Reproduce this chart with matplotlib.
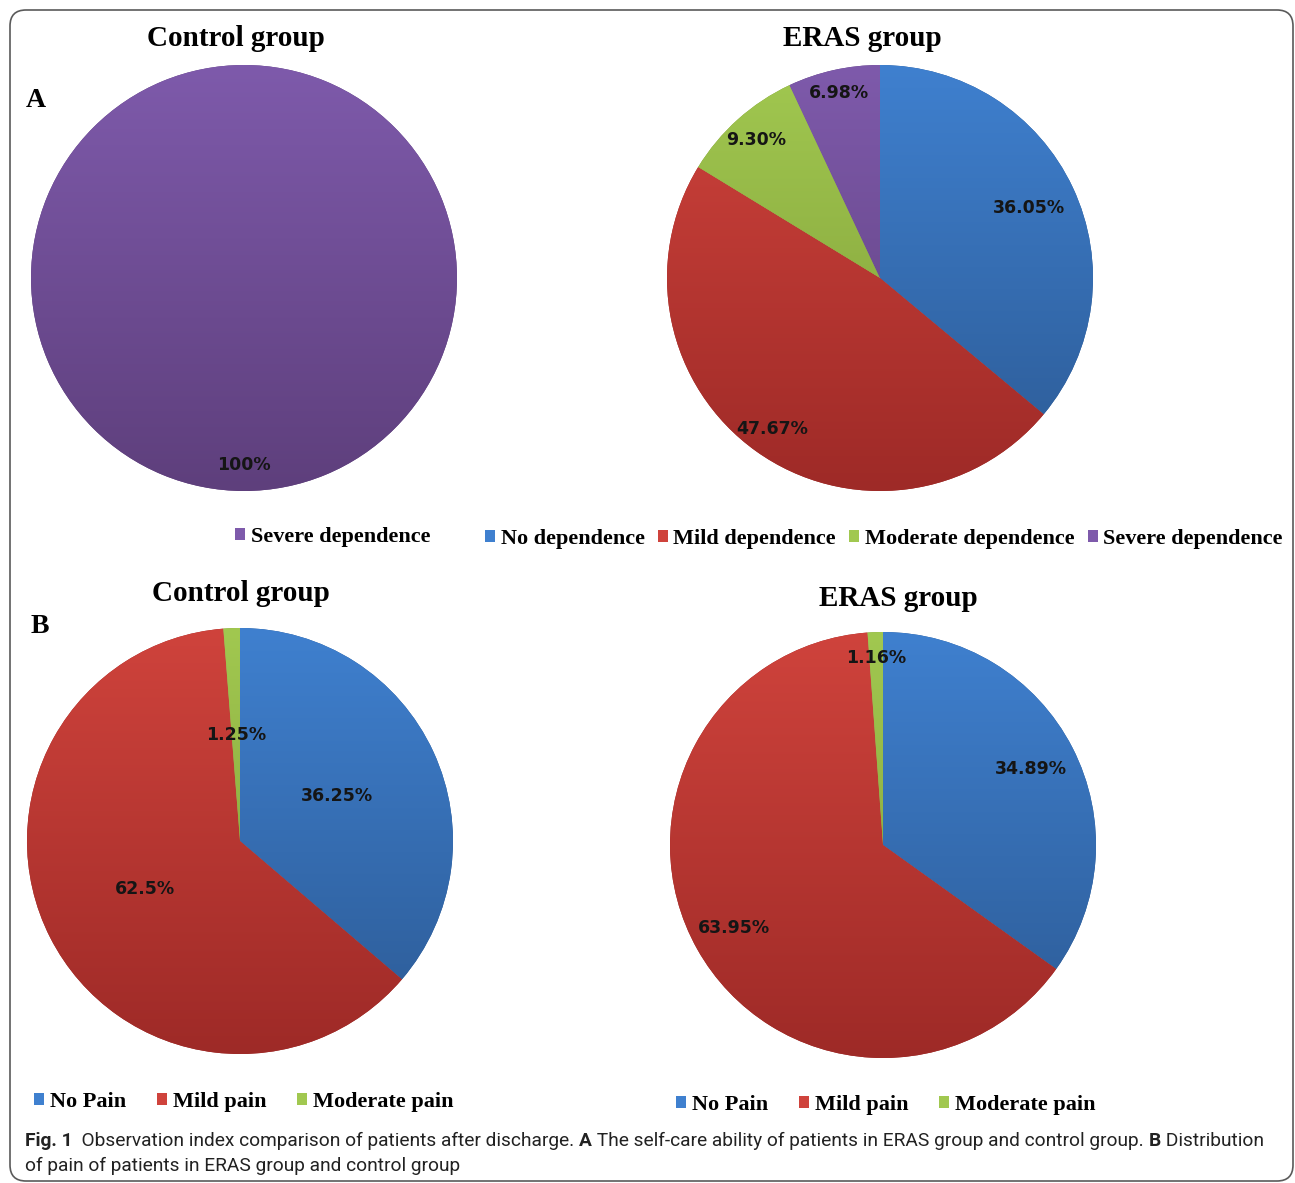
import numpy as np
import matplotlib.pyplot as plt
from matplotlib.patches import FancyBboxPatch, Patch
from matplotlib.colors import LinearSegmentedColormap

W, H = 1295, 1183

# data
ctrl_dep_cats = ['Severe dependence']
ctrl_dep_vals = [100]
ctrl_dep_text = ['100%']
eras_dep_cats = ['No dependence', 'Mild dependence', 'Moderate dependence', 'Severe dependence']
eras_dep_vals = [36.05, 47.67, 9.30, 6.98]
eras_dep_text = ['36.05%', '47.67%', '9.30%', '6.98%']
pain_cats = ['No Pain', 'Mild pain', 'Moderate pain']
ctrl_pain_vals = [36.25, 62.5, 1.25]
ctrl_pain_text = ['36.25%', '62.5%', '1.25%']
eras_pain_vals = [34.89, 63.95, 1.16]
eras_pain_text = ['34.89%', '63.95%', '1.16%']

# (light top, dark bottom)
BLUE = ('#3f80cf', '#2c5a94')
RED = ('#cf433c', '#9e2a27')
GREEN = ('#a1c850', '#7f9b37')
PURPLE = ('#7e5aab', '#5e3f7c')

SERIF = 'Liberation Serif'

fig = plt.figure(figsize=(W / 100, H / 100), dpi=100)
ov = fig.add_axes([0, 0, 1, 1])
ov.set_xlim(0, W)
ov.set_ylim(0, H)
ov.axis('off')

# rounded frame
ov.add_patch(FancyBboxPatch((10, 2), 1283, 1171, boxstyle='round,pad=0,rounding_size=16',
                            fc='none', ec='#5a5a5a', lw=1.2))


def draw_pie(cx, cy, r, vals, cols, texts, dists):
    ax = fig.add_axes([(cx - r) / W, 1 - (cy + r) / H, 2 * r / W, 2 * r / H])
    wedges, _ = ax.pie(vals, colors=[c[1] for c in cols], startangle=90, counterclock=False)
    grad = np.linspace(0, 1, 256).reshape(-1, 1)
    for w, c, t, d in zip(wedges, cols, texts, dists):
        cmap = LinearSegmentedColormap.from_list('g', [c[0], c[1]])
        im = ax.imshow(grad, cmap=cmap, extent=(-1, 1, -1, 1), origin='upper',
                       aspect='auto', zorder=w.get_zorder() + 0.1)
        im.set_clip_path(w)
        ang = np.deg2rad((w.theta1 + w.theta2) / 2)
        ax.text(d * np.cos(ang), d * np.sin(ang), t, ha='center', va='center',
                fontsize=12.5, fontweight='bold', color='#151515', zorder=5)
    ax.set_xlim(-1, 1)
    ax.set_ylim(-1, 1)
    ax.set_aspect('equal')
    ax.axis('off')


draw_pie(244, 278, 213, ctrl_dep_vals, [PURPLE], ctrl_dep_text, [0.88])
draw_pie(880, 278, 213, eras_dep_vals, [BLUE, RED, GREEN, PURPLE], eras_dep_text,
         [0.77, 0.87, 0.87, 0.89])
draw_pie(240, 841, 213, ctrl_pain_vals, [BLUE, RED, GREEN], ctrl_pain_text, [0.5, 0.5, 0.5])
draw_pie(883, 845, 213, eras_pain_vals, [BLUE, RED, GREEN], eras_pain_text, [0.78, 0.8, 0.88])

# titles and panel letters
for x, y, s in [(236, 38, 'Control group'), (862, 38, 'ERAS group'),
                (241, 593, 'Control group'), (898, 598, 'ERAS group')]:
    ov.text(x, H - y, s, ha='center', va='center', family=SERIF, fontweight='bold', fontsize=21)
ov.text(36, H - 100, 'A', ha='center', va='center', family=SERIF, fontweight='bold', fontsize=20)
ov.text(40, H - 626, 'B', ha='center', va='center', family=SERIF, fontweight='bold', fontsize=20)


def legend(cats, cols, cx, cy, spacing):
    handles = [Patch(fc=c[0], ec='none') for c in cols]
    fig.legend(handles, cats, loc='center', bbox_to_anchor=(cx / W, 1 - cy / H),
               ncol=len(cats), frameon=False, handlelength=0.45, handleheight=0.45,
               handletextpad=0.25, columnspacing=spacing,
               prop={'family': SERIF, 'weight': 'bold', 'size': 16})


legend(ctrl_dep_cats, [PURPLE], 333, 537, 0.6)
legend(eras_dep_cats, [BLUE, RED, GREEN, PURPLE], 884, 539, 0.6)
legend(pain_cats, [BLUE, RED, GREEN], 244, 1102, 1.4)
legend(pain_cats, [BLUE, RED, GREEN], 886, 1105, 1.4)

# caption
CAP = dict(family='Roboto', fontsize=13.8, color='#222222')
pieces = [('Fig. 1', 'bold'),
          ('  Observation index comparison of patients after discharge. ', 'normal'),
          ('A', 'bold'),
          (' The self-care ability of patients in ERAS group and control group. ', 'normal'),
          ('B', 'bold'),
          (' Distribution', 'normal')]
prev = ov.text(25, H - 1146, pieces[0][0], ha='left', va='baseline', fontweight='bold', **CAP)
for s, wt in pieces[1:]:
    prev = ov.annotate(s, xy=(1, 0), xycoords=prev, ha='left', va='bottom', fontweight=wt, **CAP)
ov.text(25, H - 1171, 'of pain of patients in ERAS group and control group', ha='left',
        va='baseline', **CAP)

fig.savefig('out.png', dpi=100)
